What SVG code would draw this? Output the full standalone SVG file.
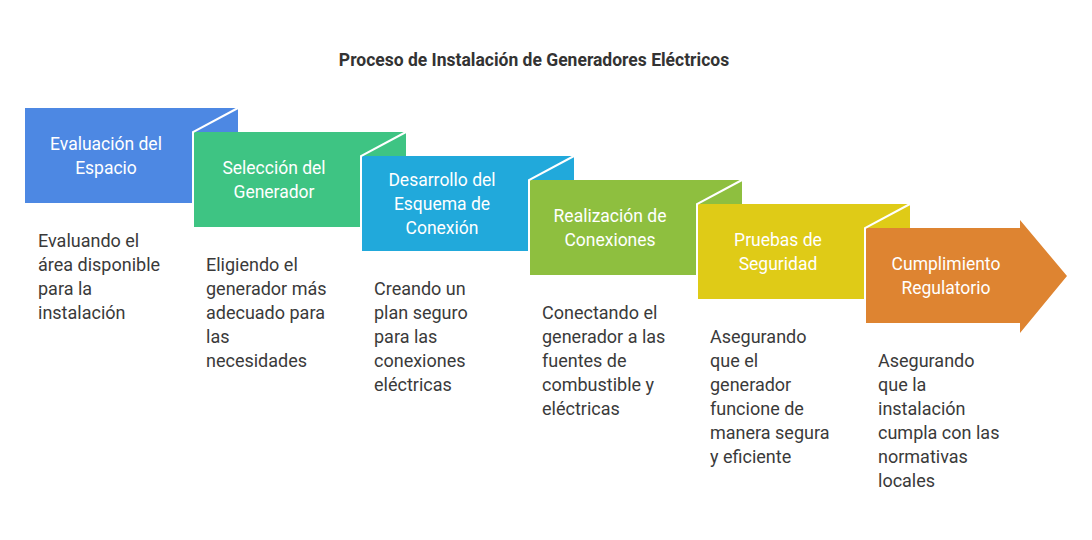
<svg xmlns="http://www.w3.org/2000/svg" width="1092" height="540" viewBox="0 0 1092 540">
<style>
.t{font-family:Roboto,"Liberation Sans",sans-serif;font-size:17.5px;fill:#fff;text-anchor:middle}
.d{font-family:Roboto,"Liberation Sans",sans-serif;font-size:18px;fill:#3a3a3a}
.f{stroke:#fff;stroke-width:2;fill:none}
</style>
<rect width="1092" height="540" fill="#fff"/>
<text x="534" y="66" text-anchor="middle" font-family="Roboto,'Liberation Sans',sans-serif" font-size="17.5" font-weight="bold" fill="#333">Proceso de Instalación de Generadores Eléctricos</text>
<g id="s1">
<polygon points="25,108 238,108 238,132 192,132 192,203 25,203" fill="#4D88E3"/>
<text class="t"><tspan x="106" y="150">Evaluación del</tspan><tspan x="106" y="174">Espacio</tspan></text>
<text class="d"><tspan x="38" y="247">Evaluando el</tspan><tspan x="38" y="271">área disponible</tspan><tspan x="38" y="295">para la</tspan><tspan x="38" y="319">instalación</tspan></text>
</g>
<g id="s2">
<polygon points="193,132 406,132 406,156 360,156 360,227 193,227" fill="#3EC483"/>
<text class="t"><tspan x="274" y="174">Selección del</tspan><tspan x="274" y="198">Generador</tspan></text>
<text class="d"><tspan x="206" y="271">Eligiendo el</tspan><tspan x="206" y="295">generador más</tspan><tspan x="206" y="319">adecuado para</tspan><tspan x="206" y="343">las</tspan><tspan x="206" y="367">necesidades</tspan></text>
</g>
<g id="s3">
<polygon points="361,156 574,156 574,180 528,180 528,251 361,251" fill="#21A9DB"/>
<text class="t"><tspan x="442" y="186">Desarrollo del</tspan><tspan x="442" y="210">Esquema de</tspan><tspan x="442" y="234">Conexión</tspan></text>
<text class="d"><tspan x="374" y="295">Creando un</tspan><tspan x="374" y="319">plan seguro</tspan><tspan x="374" y="343">para las</tspan><tspan x="374" y="367">conexiones</tspan><tspan x="374" y="391">eléctricas</tspan></text>
</g>
<g id="s4">
<polygon points="529,180 742,180 742,204 696,204 696,275 529,275" fill="#8EBF3F"/>
<text class="t"><tspan x="610" y="222">Realización de</tspan><tspan x="610" y="246">Conexiones</tspan></text>
<text class="d"><tspan x="542" y="319">Conectando el</tspan><tspan x="542" y="343">generador a las</tspan><tspan x="542" y="367">fuentes de</tspan><tspan x="542" y="391">combustible y</tspan><tspan x="542" y="415">eléctricas</tspan></text>
</g>
<g id="s5">
<polygon points="697,204 910,204 910,228 864,228 864,299 697,299" fill="#DFCB17"/>
<text class="t"><tspan x="778" y="246">Pruebas de</tspan><tspan x="778" y="270">Seguridad</tspan></text>
<text class="d"><tspan x="710" y="343">Asegurando</tspan><tspan x="710" y="367">que el</tspan><tspan x="710" y="391">generador</tspan><tspan x="710" y="415">funcione de</tspan><tspan x="710" y="439">manera segura</tspan><tspan x="710" y="463">y eficiente</tspan></text>
</g>
<g id="s6">
<polygon points="865,228 1020,228 1020,220 1067,276 1020,333 1020,323 865,323" fill="#DE8431"/>
<text class="t"><tspan x="946" y="270">Cumplimiento</tspan><tspan x="946" y="294">Regulatorio</tspan></text>
<text class="d"><tspan x="878" y="367">Asegurando</tspan><tspan x="878" y="391">que la</tspan><tspan x="878" y="415">instalación</tspan><tspan x="878" y="439">cumpla con las</tspan><tspan x="878" y="463">normativas</tspan><tspan x="878" y="487">locales</tspan></text>
</g>
<g id="connectors">
<polyline class="f" points="193,250 193,132 238,108"/>
<polyline class="f" points="361,274 361,156 406,132"/>
<polyline class="f" points="529,298 529,180 574,156"/>
<polyline class="f" points="697,322 697,204 742,180"/>
<polyline class="f" points="865,346 865,228 910,204"/>
</g>
</svg>
